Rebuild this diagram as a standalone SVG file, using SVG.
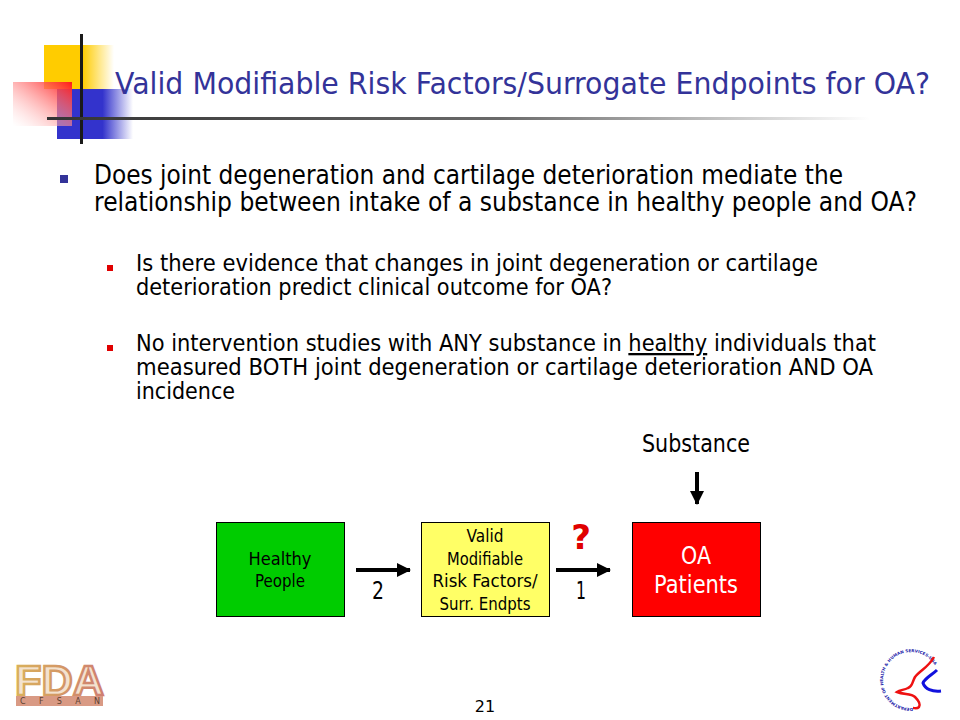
<svg xmlns="http://www.w3.org/2000/svg" width="960" height="720" viewBox="0 0 960 720">
<style>
text{font-family:"DejaVu Sans","Liberation Sans",sans-serif;fill:#000}
.title{font-size:30px;fill:#333399}
.b1{font-size:26px}
.b2{font-size:23px}
.c{text-anchor:middle}
.n{stroke:#000;stroke-width:1}
.conn{stroke:#000;stroke-width:4;fill:none}
</style>
<defs>
<linearGradient id="gy"><stop offset="0.55" stop-color="#ffcc00"/><stop offset="1" stop-color="#ffcc00" stop-opacity="0"/></linearGradient>
<linearGradient id="gb"><stop offset="0.6" stop-color="#3333cc"/><stop offset="1" stop-color="#3333cc" stop-opacity="0"/></linearGradient>
<linearGradient id="gr" x1="1" y1="0" x2="0" y2="1"><stop offset="0" stop-color="#ff1a1a"/><stop offset="1" stop-color="#ffffff" stop-opacity="0.3"/></linearGradient>
<linearGradient id="gl"><stop offset="0" stop-color="#333333"/><stop offset="0.55" stop-color="#6a6a6a"/><stop offset="1" stop-color="#ffffff"/></linearGradient>
<linearGradient id="gf" x1="0" x2="1"><stop offset="0" stop-color="#d9b15a"/><stop offset="1" stop-color="#cf7f72"/></linearGradient>
<marker id="ah" markerWidth="14" markerHeight="14" refX="13" refY="7" orient="auto" markerUnits="userSpaceOnUse"><path d="M0 0L14 7L0 14Z" fill="#000"/></marker>
<path id="ring" d="M913 708A28 28 0 1 1 934 664"/>
</defs>
<g id="decoration">
<rect x="44" y="45" width="70" height="44" fill="url(#gy)"/>
<rect x="57" y="89" width="76" height="50" fill="url(#gb)"/>
<rect x="13" y="82" width="59" height="44" fill="url(#gr)"/>
<rect x="80" y="34" width="3" height="110" fill="#1a1a1a"/>
<rect x="47" y="117" width="823" height="3" fill="url(#gl)"/>
</g>
<text class="title" x="115" y="94" textLength="815" lengthAdjust="spacingAndGlyphs">Valid Modifiable Risk Factors/Surrogate Endpoints for OA?</text>
<g id="bullets">
<rect x="60" y="175" width="8" height="8" fill="#333399"/>
<rect x="107" y="265" width="6" height="6" fill="#e00000"/>
<rect x="107" y="345" width="6" height="6" fill="#e00000"/>
</g>
<g id="body">
<text class="b1" x="94" y="184" textLength="749" lengthAdjust="spacingAndGlyphs">Does joint degeneration and cartilage deterioration mediate the</text>
<text class="b1" x="94" y="211" textLength="823" lengthAdjust="spacingAndGlyphs">relationship between intake of a substance in healthy people and OA?</text>
<text class="b2" x="136" y="271" textLength="682" lengthAdjust="spacingAndGlyphs">Is there evidence that changes in joint degeneration or cartilage</text>
<text class="b2" x="136" y="295" textLength="476" lengthAdjust="spacingAndGlyphs">deterioration predict clinical outcome for OA?</text>
<text class="b2" x="136" y="351" textLength="740" lengthAdjust="spacingAndGlyphs">No intervention studies with ANY substance in <tspan text-decoration="underline">healthy</tspan> individuals that</text>
<text class="b2" x="136" y="375" textLength="737" lengthAdjust="spacingAndGlyphs">measured BOTH joint degeneration or cartilage deterioration AND OA</text>
<text class="b2" x="136" y="399" textLength="99" lengthAdjust="spacingAndGlyphs">incidence</text>
</g>
<g id="connectors">
<path class="conn" d="M356 570H410" marker-end="url(#ah)"/>
<path class="conn" d="M556 570H610" marker-end="url(#ah)"/>
<path class="conn" d="M697 472V504" marker-end="url(#ah)"/>
</g>
<g id="node-healthy">
<rect class="n" x="216.500" y="522.500" width="128" height="94" fill="#00cc00"/>
<text class="c" x="280" y="565" font-size="18" textLength="63" lengthAdjust="spacingAndGlyphs">Healthy</text>
<text class="c" x="280" y="587" font-size="18" textLength="50" lengthAdjust="spacingAndGlyphs">People</text>
</g>
<g id="node-valid">
<rect class="n" x="421.500" y="522.500" width="128" height="94" fill="#ffff66"/>
<text class="c" x="485" y="542" font-size="18" textLength="37" lengthAdjust="spacingAndGlyphs">Valid</text>
<text class="c" x="485" y="565" font-size="18" textLength="76" lengthAdjust="spacingAndGlyphs">Modifiable</text>
<text class="c" x="485" y="587" font-size="18" textLength="105" lengthAdjust="spacingAndGlyphs">Risk Factors/</text>
<text class="c" x="485" y="610" font-size="18" textLength="91" lengthAdjust="spacingAndGlyphs">Surr. Endpts</text>
</g>
<g id="node-oa">
<rect class="n" x="632.500" y="522.500" width="128" height="94" fill="#ff0000"/>
<text class="c" x="696" y="564" font-size="24" style="fill:#fff" textLength="30" lengthAdjust="spacingAndGlyphs">OA</text>
<text class="c" x="696" y="593" font-size="24" style="fill:#fff" textLength="84" lengthAdjust="spacingAndGlyphs">Patients</text>
</g>
<g id="labels">
<text class="c" x="696" y="452" font-size="24" textLength="108" lengthAdjust="spacingAndGlyphs">Substance</text>
<text class="c" x="378" y="599" font-size="24" textLength="12" lengthAdjust="spacingAndGlyphs">2</text>
<text class="c" x="581" y="599" font-size="24" textLength="10" lengthAdjust="spacingAndGlyphs">1</text>
<text class="c" x="581" y="549" font-size="34" font-weight="bold" style="fill:#e00000">?</text>
<text class="c" x="485" y="712" font-size="16">21</text>
</g>
<g id="logo-fda">
<text x="15" y="695" font-size="43" font-weight="bold" style="font-family:'Liberation Sans',sans-serif;fill:#f3e2cf;stroke:url(#gf);stroke-width:2.5" textLength="89" lengthAdjust="spacingAndGlyphs">FDA</text>
<rect x="16" y="696" width="87" height="10" fill="#d99a84"/>
<text x="20" y="704" font-size="8" style="fill:#5a4030" textLength="80">C F S A N</text>
</g>
<g id="logo-hhs">
<text font-size="4" font-weight="bold" style="fill:#2222aa"><textPath href="#ring" textLength="118" lengthAdjust="spacingAndGlyphs">DEPARTMENT OF HEALTH &amp; HUMAN SERVICES-USA</textPath></text>
<path d="M934 657C928 668 920 670 915 677C912 682 913 686 908 688C904 690 900 690 897 692C904 695 911 693 915 697C919 701 921 704 919 707C917 709 915 708 913 708" fill="none" stroke="#ee1111" stroke-width="2.500"/>
<path d="M937 670C932 675 925 678 923 683C925 689 932 692 941 691" fill="none" stroke="#1111dd" stroke-width="3"/>
</g>
</svg>
